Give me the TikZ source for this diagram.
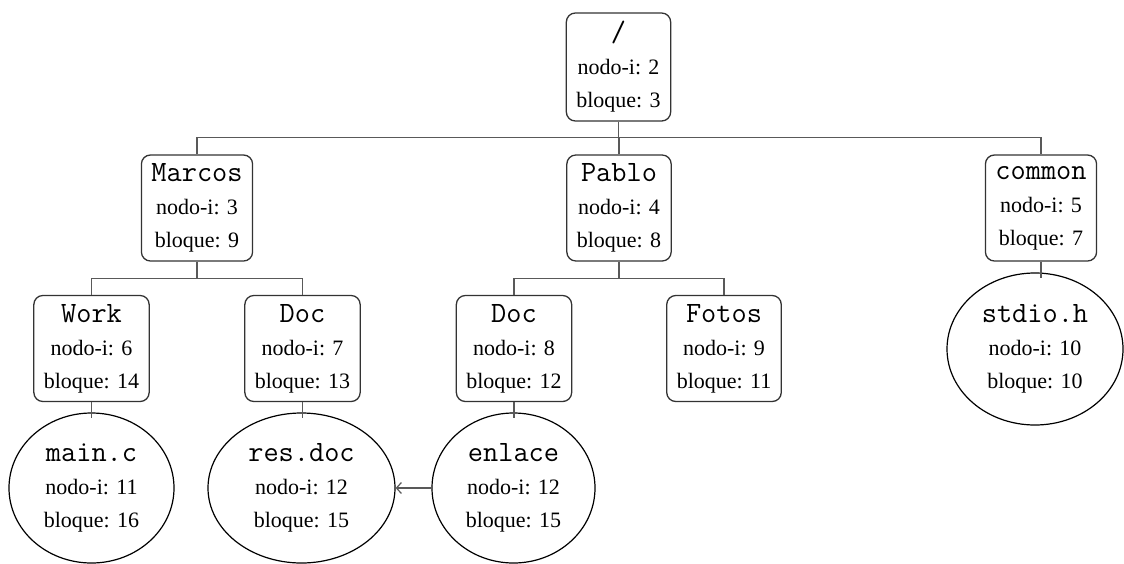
\documentclass[tikz,border=0pt]{standalone}
\usepackage{fontspec}
\setmainfont{Liberation Serif}
\usetikzlibrary{shapes.geometric,arrows.meta}
\newcommand{\fname}[1]{{\fontsize{29.5}{33}\selectfont\ttfamily #1}}
\begin{document}
\begin{tikzpicture}[x=1pt,y=-1pt,
  every node/.style={font=\fontsize{22}{33}\selectfont, align=center},
  dirbox/.style={draw=black!80, line width=1.3pt, rounded corners=9pt, inner xsep=10pt, inner ysep=0pt, minimum height=106pt},
  filell/.style={draw=black, ellipse, line width=1.2pt, inner sep=0pt},
  conn/.style={draw=black!65, line width=1.2pt},
]
\useasboundingbox (0,0) rectangle (1124,563);

\node[dirbox, minimum height=108pt] (root) at (618.5,67) {\fname{/}\\nodo-i: 2\\bloque: 3};

\node[dirbox] (marcos) at (197,208) {\fname{Marcos}\\nodo-i: 3\\bloque: 9};
\node[dirbox] (pablo) at (619,208) {\fname{Pablo}\\nodo-i: 4\\bloque: 8};
\node[dirbox] (common) at (1041,208) {\fname{common}\\nodo-i: 5\\bloque: 7};

\node[dirbox] (work) at (91.5,348.5) {\fname{Work}\\nodo-i: 6\\bloque: 14};
\node[dirbox] (doca) at (302.5,348.5) {\fname{Doc}\\nodo-i: 7\\bloque: 13};
\node[dirbox] (docb) at (514,348.5) {\fname{Doc}\\nodo-i: 8\\bloque: 12};
\node[dirbox] (fotos) at (724,348.5) {\fname{Fotos}\\nodo-i: 9\\bloque: 11};

\node[filell, minimum width=165pt, minimum height=150pt] (mainc) at (91.5,488) {\fname{main.c}\\nodo-i: 11\\bloque: 16};
\node[filell, minimum width=187pt, minimum height=150pt] (resdoc) at (301.5,488) {\fname{res.doc}\\nodo-i: 12\\bloque: 15};
\node[filell, minimum width=163pt, minimum height=150pt] (enlace) at (513.5,488) {\fname{enlace}\\nodo-i: 12\\bloque: 15};
\node[filell, minimum width=176pt, minimum height=152pt] (stdio) at (1035,349) {\fname{stdio.h}\\nodo-i: 10\\bloque: 10};

% tree connectors
\draw[conn] (root.south) -- ++(0,16) coordinate (j0);
\draw[conn] (marcos.north) |- (j0) -| (common.north);
\draw[conn] (pablo.north) -- (pablo.north |- j0);

\draw[conn] (marcos.south) -- ++(0,17) coordinate (j1);
\draw[conn] (work.north) |- (j1) -| (doca.north);

\draw[conn] (pablo.south) -- ++(0,17) coordinate (j2);
\draw[conn] (docb.north) |- (j2) -| (fotos.north);

\draw[conn, shorten >=-6pt] (work.south) -- (work.south |- mainc.north);
\draw[conn, shorten >=-6pt] (doca.south) -- (doca.south |- resdoc.north);
\draw[conn, shorten >=-6pt] (docb.south) -- (docb.south |- enlace.north);
\draw[conn, shorten >=-6pt] (common.south) -- (common.south |- stdio.north);

\draw[conn, -{Straight Barb[length=5pt,width=11pt]}] (enlace.west) -- (resdoc.east);
\end{tikzpicture}
\end{document}
